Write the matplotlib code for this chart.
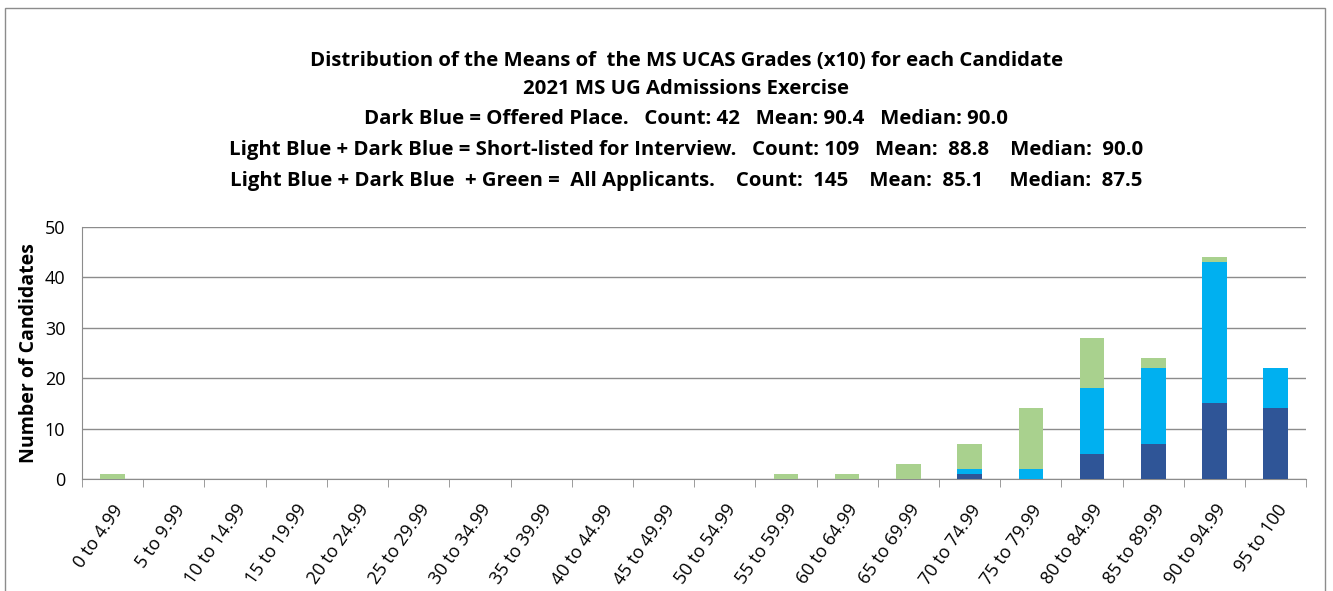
import matplotlib.pyplot as plt
from matplotlib.patches import Rectangle
import numpy as np

plt.rcParams['font.family'] = ['Open Sans', 'DejaVu Sans']

categories = ['0 to 4.99', '5 to 9.99', '10 to 14.99', '15 to 19.99', '20 to 24.99',
              '25 to 29.99', '30 to 34.99', '35 to 39.99', '40 to 44.99', '45 to 49.99',
              '50 to 54.99', '55 to 59.99', '60 to 64.99', '65 to 69.99', '70 to 74.99',
              '75 to 79.99', '80 to 84.99', '85 to 89.99', '90 to 94.99', '95 to 100']
# offered place (dark blue)
offered = [0, 0, 0, 0, 0, 0, 0, 0, 0, 0, 0, 0, 0, 0, 1, 0, 5, 7, 15, 14]
# short-listed but not offered (light blue)
shortlisted = [0, 0, 0, 0, 0, 0, 0, 0, 0, 0, 0, 0, 0, 0, 1, 2, 13, 15, 28, 8]
# remaining applicants (green)
others = [1, 0, 0, 0, 0, 0, 0, 0, 0, 0, 0, 1, 1, 3, 5, 12, 10, 2, 1, 0]

title_lines = [
    "Distribution of the Means of  the MS UCAS Grades (x10) for each Candidate",
    "2021 MS UG Admissions Exercise",
    "Dark Blue = Offered Place.   Count: 42   Mean: 90.4   Median: 90.0",
    "Light Blue + Dark Blue = Short-listed for Interview.   Count: 109   Mean:  88.8    Median:  90.0",
    "Light Blue + Dark Blue  + Green =  All Applicants.    Count:  145    Mean:  85.1     Median:  87.5",
]

fig = plt.figure(figsize=(13.33, 5.91), dpi=100)
ax = fig.add_axes([0.0615, 0.1895, 0.9185, 0.4265])

x = np.arange(len(categories))
w = 0.4
dark = '#2F5597'
light = '#00B0F0'
green = '#A9D18E'
ax.bar(x, offered, w, color=dark, zorder=3)
ax.bar(x, shortlisted, w, bottom=offered, color=light, zorder=3)
bottom2 = np.array(offered) + np.array(shortlisted)
ax.bar(x, others, w, bottom=bottom2, color=green, zorder=3)

ax.set_xlim(-0.5, len(categories) - 0.5)
ax.set_ylim(0, 50)
ax.set_yticks(range(0, 51, 10))
ax.yaxis.grid(True, color='#8c8c8c', linewidth=1, zorder=0)
ax.set_xticks(x)
ax.set_xticklabels(categories, rotation=55, ha='right', rotation_mode='anchor', fontsize=13)
ax.set_xticks(np.arange(-0.5, len(categories), 1), minor=True)
ax.tick_params(axis='x', which='major', length=0, pad=16)
ax.tick_params(axis='x', which='minor', length=6, color='#8c8c8c', direction='out')
ax.tick_params(axis='y', length=0, pad=12, labelsize=13)
for s in ['top', 'right']:
    ax.spines[s].set_visible(False)
ax.spines['left'].set_color('#8c8c8c')
ax.spines['bottom'].set_color('#8c8c8c')
ax.set_ylabel('Number of Candidates', fontsize=14, fontweight='bold', labelpad=4)

ys = [0.896, 0.849, 0.799, 0.747, 0.694]
for t, yy in zip(title_lines, ys):
    fig.text(0.515, yy, t, ha='center', va='center', fontsize=14.7, fontweight='bold')

fig.patches.append(Rectangle((0.0038, -0.05), 0.99, 1.036, transform=fig.transFigure,
                             fill=False, edgecolor='#8c8c8c', linewidth=1))

fig.savefig('out.png', dpi=100)
